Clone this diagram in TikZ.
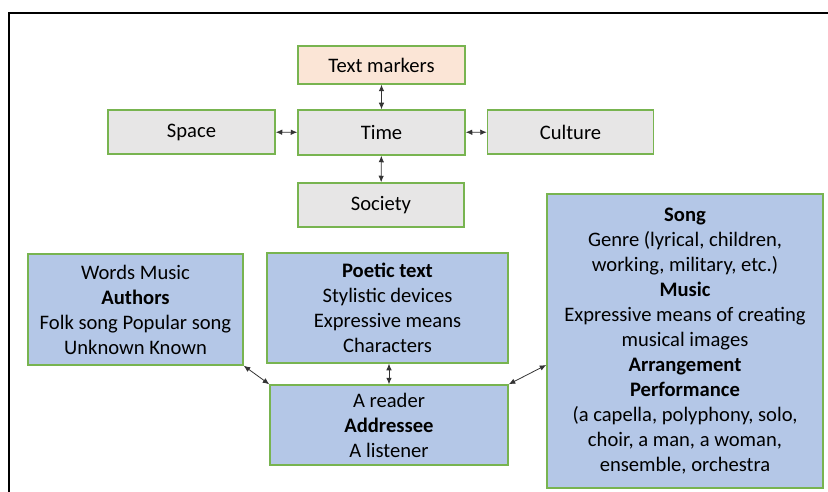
\documentclass[tikz,border=0pt]{standalone}
\usepackage{fontspec}
\setmainfont{Carlito}
\usetikzlibrary{arrows.meta,calc}
\definecolor{bordergreen}{RGB}{120,180,80}
\definecolor{boxblue}{RGB}{180,199,231}
\definecolor{boxgray}{RGB}{231,230,230}
\definecolor{boxpeach}{RGB}{251,229,214}
\tikzset{
  base/.style={draw=bordergreen, line width=1.5pt, inner sep=0pt, align=center,
    font=\fontsize{20.6}{25}\selectfont},
  graybox/.style={base, fill=boxgray},
  peachbox/.style={base, fill=boxpeach},
  bluebox/.style={base, fill=boxblue},
  link/.style={draw=black!80, line width=0.8pt,
    {Latex[length=6.5pt,width=5.5pt]}-{Latex[length=6.5pt,width=5.5pt]}}
}
\begin{document}
\begin{tikzpicture}[x=1pt,y=-1pt]
\useasboundingbox (0,0) rectangle (828,492);
\fill[white] (0,0) rectangle (828,492);
\draw[line width=2.5pt, black] (9,492) -- (9,13) -- (828,13);

\node[peachbox, minimum width=167pt, minimum height=38pt] (tm) at (381.5,65) {Text markers};
\node[graybox, minimum width=167pt, minimum height=45pt] (time) at (381.5,132.5) {Time};
\node[graybox, minimum width=167pt, minimum height=44pt] (space) at (191.5,132) {Space};
\node[graybox, minimum width=166pt, minimum height=44pt] (culture) at (570.5,132) {Culture};
\node[graybox, minimum width=166pt, minimum height=44pt] (society) at (381,205) {Society};

\node[bluebox, minimum width=215pt, minimum height=111pt] (words) at (135.5,309.5)
  {Words Music\\\textbf{Authors}\\Folk song Popular song\\Unknown Known};
\node[bluebox, minimum width=241pt, minimum height=110pt] (poetic) at (387.5,308)
  {\textbf{Poetic text}\\Stylistic devices\\Expressive means\\Characters};
\node[bluebox, minimum width=238pt, minimum height=80pt] (addr) at (389,425)
  {A reader\\\textbf{Addressee}\\A listener};
\node[bluebox, minimum width=276pt, minimum height=294pt] (song) at (685,341)
  {\textbf{Song}\\Genre (lyrical, children,\\working, military, etc.)\\\textbf{Music}\\Expressive means of creating\\musical images\\\textbf{Arrangement}\\\textbf{Performance}\\(a capella, polyphony, solo,\\choir, a man, a woman,\\ensemble, orchestra};

\coordinate (songin) at ($(song.west)+(0,24)$);

\draw[link] (tm) -- (time);
\draw[link] (space) -- (time);
\draw[link] (time) -- (culture);
\draw[link] (time) -- (society);
\draw[link] (words.south east) -- (addr.north west);
\draw[link] (poetic.south -| addr.north) -- (addr.north);
\draw[link] (addr.north east) -- (songin);
\end{tikzpicture}
\end{document}
